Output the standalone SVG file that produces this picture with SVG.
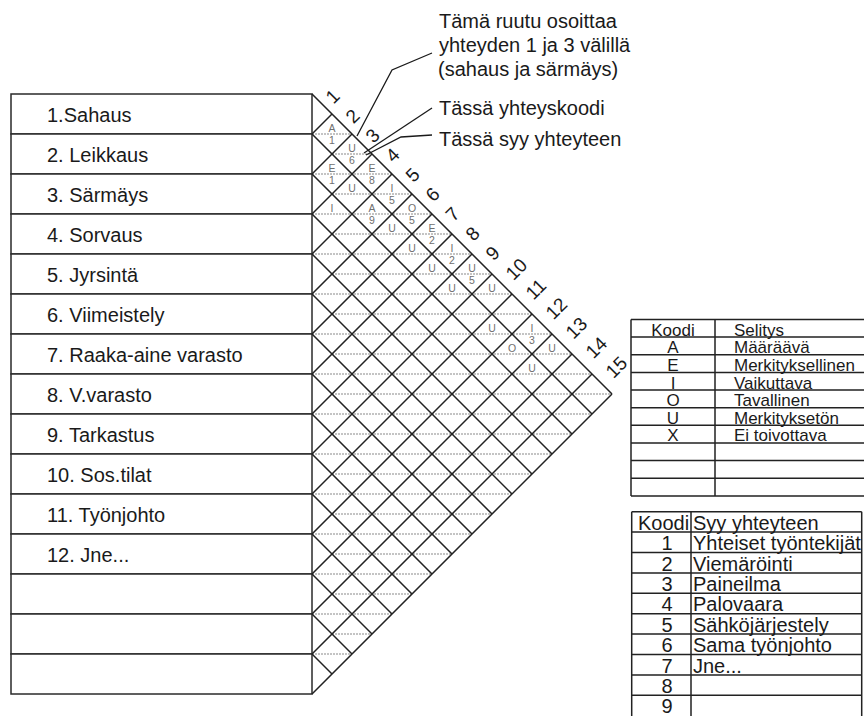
<svg xmlns="http://www.w3.org/2000/svg" width="864" height="716" viewBox="0 0 864 716">
<style>
text{font-family:"Liberation Sans",Arial,sans-serif;fill:#1a1a1a}
.row{fill:#fff;stroke:#2a2a2a;stroke-width:1.5}
.lbl{font-size:20px}
.grid{stroke:#222;stroke-width:1.5;fill:none}
.dash{stroke:#8a8a8a;stroke-width:1.1;stroke-dasharray:2 1;fill:none}
.num{font-size:19px}
.code{font-size:10.5px;fill:#707070;text-anchor:middle}
.tl{stroke:#222;stroke-width:1.5;fill:none}
.t1{font-size:17px}
.t2{font-size:20px}
.mid{text-anchor:middle}
.ann{font-size:20px}
.lead{stroke:#1a1a1a;stroke-width:1.3;fill:none}
</style>

<g id="list">
<g id="row1"><rect class="row" x="11" y="94" width="301" height="40"/><text class="lbl" x="47" y="122">1.Sahaus</text></g>
<g id="row2"><rect class="row" x="11" y="134" width="301" height="40"/><text class="lbl" x="47" y="162">2. Leikkaus</text></g>
<g id="row3"><rect class="row" x="11" y="174" width="301" height="40"/><text class="lbl" x="47" y="202">3. Särmäys</text></g>
<g id="row4"><rect class="row" x="11" y="214" width="301" height="40"/><text class="lbl" x="47" y="242">4. Sorvaus</text></g>
<g id="row5"><rect class="row" x="11" y="254" width="301" height="40"/><text class="lbl" x="47" y="282">5. Jyrsintä</text></g>
<g id="row6"><rect class="row" x="11" y="294" width="301" height="40"/><text class="lbl" x="47" y="322">6. Viimeistely</text></g>
<g id="row7"><rect class="row" x="11" y="334" width="301" height="40"/><text class="lbl" x="47" y="362">7. Raaka-aine varasto</text></g>
<g id="row8"><rect class="row" x="11" y="374" width="301" height="40"/><text class="lbl" x="47" y="402">8. V.varasto</text></g>
<g id="row9"><rect class="row" x="11" y="414" width="301" height="40"/><text class="lbl" x="47" y="442">9. Tarkastus</text></g>
<g id="row10"><rect class="row" x="11" y="454" width="301" height="40"/><text class="lbl" x="47" y="482">10. Sos.tilat</text></g>
<g id="row11"><rect class="row" x="11" y="494" width="301" height="40"/><text class="lbl" x="47" y="522">11. Työnjohto</text></g>
<g id="row12"><rect class="row" x="11" y="534" width="301" height="40"/><text class="lbl" x="47" y="562">12. Jne...</text></g>
<g id="row13"><rect class="row" x="11" y="574" width="301" height="40"/></g>
<g id="row14"><rect class="row" x="11" y="614" width="301" height="40"/></g>
<g id="row15"><rect class="row" x="11" y="654" width="301" height="40"/></g>
</g>

<g id="matrix">
<g id="dashes">
<path class="dash" d="M312 134H352M332 154H372M312 174H392M332 194H412M312 214H432M332 234H452M312 254H472M332 274H492M312 294H512M332 314H532M312 334H552M332 354H572M312 374H592M332 394H612M312 414H592M332 434H572M312 454H552M332 474H532M312 494H512M332 514H492M312 534H472M332 554H452M312 574H432M332 594H412M312 614H392M332 634H372M312 654H352"/>
</g>
<g id="gridlines">
<path class="grid" d="M312 94L612 394M312 134L592 414M312 174L572 434M312 214L552 454M312 254L532 474M312 294L512 494M312 334L492 514M312 374L472 534M312 414L452 554M312 454L432 574M312 494L412 594M312 534L392 614M312 574L372 634M312 614L352 654M312 654L332 674"/>
<path class="grid" d="M312 134L332 114M312 174L352 134M312 214L372 154M312 254L392 174M312 294L412 194M312 334L432 214M312 374L452 234M312 414L472 254M312 454L492 274M312 494L512 294M312 534L532 314M312 574L552 334M312 614L572 354M312 654L592 374M312 694L612 394"/>
</g>
<g id="numbers" class="num">
<text transform="translate(328.6 100) rotate(-45)" y="6.8">1</text>
<text transform="translate(348.6 119.6) rotate(-45)" y="6.8">2</text>
<text transform="translate(368.6 139.2) rotate(-45)" y="6.8">3</text>
<text transform="translate(388.6 158.8) rotate(-45)" y="6.8">4</text>
<text transform="translate(408.6 178.4) rotate(-45)" y="6.8">5</text>
<text transform="translate(428.6 198) rotate(-45)" y="6.8">6</text>
<text transform="translate(448.6 217.6) rotate(-45)" y="6.8">7</text>
<text transform="translate(468.6 237.2) rotate(-45)" y="6.8">8</text>
<text transform="translate(488.6 256.8) rotate(-45)" y="6.8">9</text>
<text transform="translate(508.6 276.4) rotate(-45)" y="6.8">10</text>
<text transform="translate(528.6 296) rotate(-45)" y="6.8">11</text>
<text transform="translate(548.6 315.6) rotate(-45)" y="6.8">12</text>
<text transform="translate(568.6 335.2) rotate(-45)" y="6.8">13</text>
<text transform="translate(588.6 354.8) rotate(-45)" y="6.8">14</text>
<text transform="translate(608.6 374.4) rotate(-45)" y="6.8">15</text>
</g>
<g id="codes">
<text class="code" x="332" y="131.8">A</text><text class="code" x="332" y="143.8">1</text>
<text class="code" x="352" y="151.8">U</text><text class="code" x="352" y="163.8">6</text>
<text class="code" x="332" y="171.8">E</text><text class="code" x="332" y="183.8">1</text>
<text class="code" x="372" y="171.8">E</text><text class="code" x="372" y="183.8">8</text>
<text class="code" x="352" y="191.8">U</text>
<text class="code" x="392" y="191.8">I</text><text class="code" x="392" y="203.8">5</text>
<text class="code" x="332" y="211.8">I</text>
<text class="code" x="372" y="211.8">A</text><text class="code" x="372" y="223.8">9</text>
<text class="code" x="412" y="211.8">O</text><text class="code" x="412" y="223.8">5</text>
<text class="code" x="392" y="231.8">U</text>
<text class="code" x="432" y="231.8">E</text><text class="code" x="432" y="243.8">2</text>
<text class="code" x="412" y="251.8">U</text>
<text class="code" x="452" y="251.8">I</text><text class="code" x="452" y="263.8">2</text>
<text class="code" x="432" y="271.8">U</text>
<text class="code" x="472" y="271.8">U</text><text class="code" x="472" y="283.8">5</text>
<text class="code" x="452" y="291.8">U</text>
<text class="code" x="492" y="291.8">U</text>
<text class="code" x="492" y="331.8">U</text>
<text class="code" x="532" y="331.8">I</text><text class="code" x="532" y="343.8">3</text>
<text class="code" x="512" y="351.8">O</text>
<text class="code" x="552" y="351.8">U</text>
<text class="code" x="532" y="371.8">U</text>
</g>
</g>

<g id="annotations">
<g id="note1"><text class="ann" x="439" y="28">Tämä ruutu osoittaa</text><text class="ann" x="439" y="52">yhteyden 1 ja 3 välillä</text><text class="ann" x="438" y="76">(sahaus ja särmäys)</text></g>
<g id="note2"><text class="ann" x="439" y="115">Tässä yhteyskoodi</text></g>
<g id="note3"><text class="ann" x="439" y="146">Tässä syy yhteyteen</text></g>
</g>

<g id="connectors">
<polyline class="lead" points="432,53 392,70 357,136"/>
<polyline class="lead" points="432,108 364,153"/>
<polyline class="lead" points="432,135 401,137 366,155"/>
</g>

<g id="table1">
<path class="tl" d="M631 319.5H880M631 337.1H880M631 354.8H880M631 372.4H880M631 390.1H880M631 407.7H880M631 425.3H880M631 443H880M631 460.6H880M631 478.3H880M631 495.9H880M631 319.5V495.9M715 319.5V495.9"/>
<g class="t1">
<text class="mid" x="673" y="335.6">Koodi</text><text x="734" y="335.6">Selitys</text>
<text class="mid" x="673" y="353.2">A</text><text x="734" y="353.2">Määräävä</text>
<text class="mid" x="673" y="370.8">E</text><text x="734" y="370.8">Merkityksellinen</text>
<text class="mid" x="673" y="388.5">I</text><text x="734" y="388.5">Vaikuttava</text>
<text class="mid" x="673" y="406.1">O</text><text x="734" y="406.1">Tavallinen</text>
<text class="mid" x="673" y="423.7">U</text><text x="734" y="423.7">Merkityksetön</text>
<text class="mid" x="673" y="441.4">X</text><text x="734" y="441.4">Ei toivottava</text>
</g>
</g>

<g id="table2">
<path class="tl" d="M631.7 511.7H861.7M631.7 532.1H861.7M631.7 552.5H861.7M631.7 572.9H861.7M631.7 593.3H861.7M631.7 613.7H861.7M631.7 634.1H861.7M631.7 654.5H861.7M631.7 674.9H861.7M631.7 695.3H861.7M631.7 511.7V720M691 511.7V720M861.7 511.7V720"/>
<g class="t2">
<text x="638" y="529.8">Koodi</text><text x="693" y="529.8">Syy yhteyteen</text>
<text class="mid" x="667" y="550.2">1</text><text x="693" y="550.2">Yhteiset työntekijät</text>
<text class="mid" x="667" y="570.6">2</text><text x="693" y="570.6">Viemäröinti</text>
<text class="mid" x="667" y="591">3</text><text x="693" y="591">Paineilma</text>
<text class="mid" x="667" y="611.4">4</text><text x="693" y="611.4">Palovaara</text>
<text class="mid" x="667" y="631.8">5</text><text x="693" y="631.8">Sähköjärjestely</text>
<text class="mid" x="667" y="652.2">6</text><text x="693" y="652.2">Sama työnjohto</text>
<text class="mid" x="667" y="672.6">7</text><text x="693" y="672.6">Jne...</text>
<text class="mid" x="667" y="693">8</text>
<text class="mid" x="667" y="713.2">9</text>
</g>
</g>
</svg>
